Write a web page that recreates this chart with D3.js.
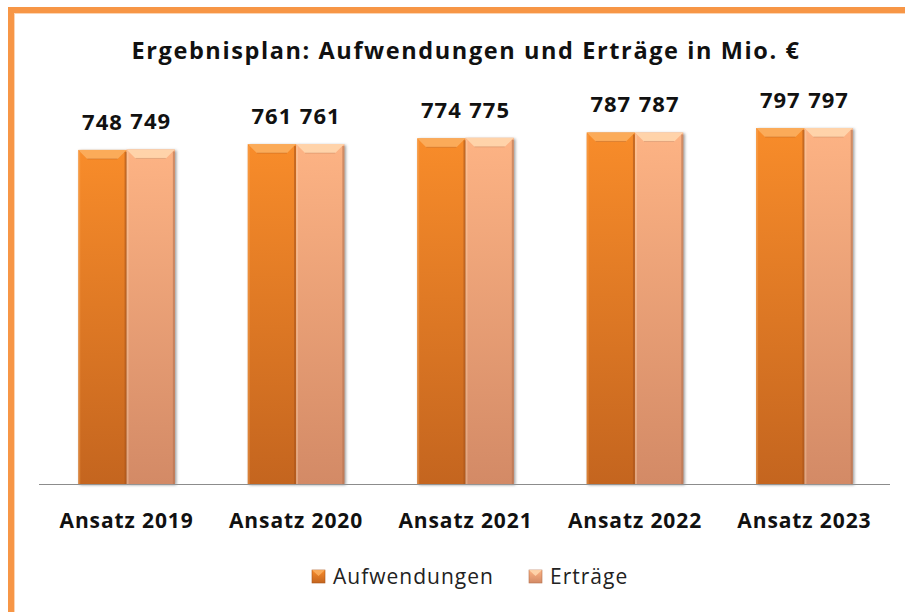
<!DOCTYPE html>
<html lang="de">
<head>
  <meta charset="UTF-8">
  <title>Ergebnisplan</title>
  <script src="https://cdn.jsdelivr.net/npm/d3@7"></script>
  <style>
    body { margin: 0; background: #fff; }
    svg text { font-family: "Open Sans", "Noto Sans", sans-serif; }
  </style>
</head>
<body>
<svg id="chart"></svg>
<script>
// chart data
const categories = ["Ansatz 2019", "Ansatz 2020", "Ansatz 2021", "Ansatz 2022", "Ansatz 2023"];
const seriesNames = ["Aufwendungen", "Erträge"];
const aufwendungen = [748, 761, 774, 787, 797];
const ertraege = [749, 761, 775, 787, 797];
const titleText = "Ergebnisplan: Aufwendungen und Erträge in Mio. €";

const width = 905, height = 612;
const svg = d3.select("#chart").attr("width", width).attr("height", height);

// colours per series: top, bottom, bevel, edge
const pal = {
  "Aufwendungen": { top: "#F88C2A", bot: "#C4651F", bevel: "#FBB062", edge: "#A9541A" },
  "Erträge":      { top: "#FDB384", bot: "#D38A66", bevel: "#FFD8B0", edge: "#B4724F" }
};

const defs = svg.append("defs");
seriesNames.forEach((s, i) => {
  const g = defs.append("linearGradient").attr("id", "grad" + i)
    .attr("x1", 0).attr("y1", 0).attr("x2", 0).attr("y2", 1);
  g.append("stop").attr("offset", "0%").attr("stop-color", pal[s].top);
  g.append("stop").attr("offset", "100%").attr("stop-color", pal[s].bot);
});
const blur = defs.append("filter").attr("id", "shadow")
  .attr("x", "-20%").attr("y", "-5%").attr("width", "140%").attr("height", "110%");
blur.append("feGaussianBlur").attr("stdDeviation", 1.5);

// orange frame (top and left visible)
svg.append("rect").attr("x", 8).attr("y", 7).attr("width", width).attr("height", 6).attr("fill", "#F79646");
svg.append("rect").attr("x", 8).attr("y", 7).attr("width", 6).attr("height", height).attr("fill", "#F79646");
svg.append("rect").attr("x", 14).attr("y", 13).attr("width", width).attr("height", 1).attr("fill", "#FCD5B4");
svg.append("rect").attr("x", 14).attr("y", 13).attr("width", 1).attr("height", height).attr("fill", "#FCD5B4");

// title
svg.append("text")
  .attr("x", 466).attr("y", 59)
  .attr("text-anchor", "middle")
  .attr("font-size", 23.5).attr("font-weight", 700).attr("fill", "#111")
  .attr("letter-spacing", 1.6)
  .text(titleText);

const x0 = d3.scaleBand().domain(categories).range([41, 890]).paddingInner(0.43).paddingOuter(0.22);
const x1 = d3.scaleBand().domain(seriesNames).range([0, x0.bandwidth()]);
const y = d3.scaleLinear().domain([0, 900]).range([484, 82]);

const rows = categories.map((c, i) => ({
  cat: c,
  vals: [
    { s: seriesNames[0], v: aufwendungen[i] },
    { s: seriesNames[1], v: ertraege[i] }
  ]
}));

// baseline
svg.append("line")
  .attr("x1", 39).attr("x2", 890)
  .attr("y1", y(0) + 0.5).attr("y2", y(0) + 0.5)
  .attr("stroke", "#8c8c8c").attr("stroke-width", 1.2);

const groups = svg.append("g").selectAll("g").data(rows).join("g")
  .attr("transform", d => `translate(${x0(d.cat)},0)`);

const bw = x1.bandwidth();
const bev = 9;

// shadows
groups.selectAll("rect.shadow").data(d => d.vals).join("rect")
  .attr("class", "shadow")
  .attr("x", d => x1(d.s) + 1.5).attr("y", d => y(d.v) + 1)
  .attr("width", bw).attr("height", d => y(0) - y(d.v))
  .attr("fill", "#9a9a9a").attr("filter", "url(#shadow)");

// bars
groups.selectAll("rect.bar").data(d => d.vals).join("rect")
  .attr("class", "bar")
  .attr("x", d => x1(d.s)).attr("y", d => y(d.v))
  .attr("width", bw).attr("height", d => y(0) - y(d.v))
  .attr("fill", d => `url(#grad${seriesNames.indexOf(d.s)})`);

// top bevel
groups.selectAll("polygon.bevel").data(d => d.vals).join("polygon")
  .attr("class", "bevel")
  .attr("points", d => {
    const xa = x1(d.s), ya = y(d.v);
    return [[xa, ya], [xa + bw, ya], [xa + bw - bev, ya + bev], [xa + bev, ya + bev]].join(" ");
  })
  .attr("fill", d => pal[d.s].bevel).attr("opacity", 0.85);
groups.selectAll("line.bevline").data(d => d.vals).join("line")
  .attr("class", "bevline")
  .attr("x1", d => x1(d.s) + bev).attr("x2", d => x1(d.s) + bw - bev)
  .attr("y1", d => y(d.v) + bev).attr("y2", d => y(d.v) + bev)
  .attr("stroke", d => pal[d.s].edge).attr("stroke-opacity", 0.35);

// side edges
groups.selectAll("rect.ledge").data(d => d.vals).join("rect")
  .attr("class", "ledge")
  .attr("x", d => x1(d.s)).attr("y", d => y(d.v) + 2)
  .attr("width", 2).attr("height", d => y(0) - y(d.v) - 2)
  .attr("fill", d => pal[d.s].bevel).attr("opacity", 0.35);
groups.selectAll("rect.redge").data(d => d.vals).join("rect")
  .attr("class", "redge")
  .attr("x", d => x1(d.s) + bw - 2).attr("y", d => y(d.v) + 2)
  .attr("width", 2).attr("height", d => y(0) - y(d.v) - 2)
  .attr("fill", d => pal[d.s].edge).attr("opacity", 0.6);

// value labels
groups.selectAll("text.val").data(d => d.vals).join("text")
  .attr("class", "val")
  .attr("x", d => x1(d.s) + bw / 2).attr("y", d => y(d.v) - 20)
  .attr("text-anchor", "middle")
  .attr("font-size", 22).attr("font-weight", 700).attr("fill", "#111")
  .attr("letter-spacing", 1)
  .text(d => d.v);

// category axis
const xAxis = svg.append("g")
  .attr("transform", `translate(0,${y(0)})`)
  .call(d3.axisBottom(x0).tickSize(0).tickPadding(29));
xAxis.select(".domain").remove();
xAxis.selectAll("text")
  .attr("font-family", "'Open Sans', 'Noto Sans', sans-serif")
  .attr("font-size", 21).attr("font-weight", 700).attr("fill", "#111")
  .attr("letter-spacing", 0.9);

// legend
const legend = svg.append("g");
const legX = [312, 529];
seriesNames.forEach((s, i) => {
  const g = legend.append("g").attr("transform", `translate(${legX[i]},570)`);
  g.append("rect").attr("width", 13).attr("height", 13)
    .attr("fill", `url(#grad${i})`).attr("stroke", pal[s].edge).attr("stroke-width", 0.6);
  g.append("polygon").attr("points", "0,0 13,0 6.5,6").attr("fill", pal[s].bevel).attr("opacity", 0.85);
  g.append("text").attr("x", 21).attr("y", 13.5)
    .attr("font-size", 21).attr("fill", "#222")
    .attr("letter-spacing", 1)
    .text(s);
});
</script>
</body>
</html>
